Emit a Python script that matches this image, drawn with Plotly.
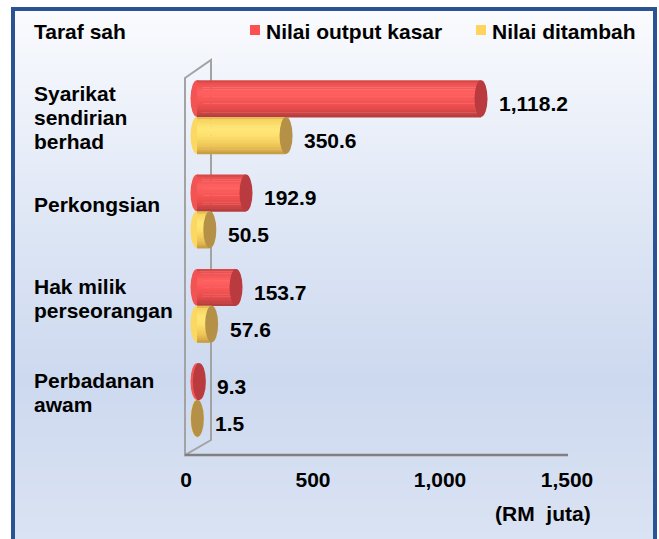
import base64, struct, zlib
import plotly.graph_objects as go

# ---------------- data ----------------
categories = ["Syarikat<br>sendirian<br>berhad", "Perkongsian",
              "Hak milik<br>perseorangan", "Perbadanan<br>awam"]
output_kasar = [1118.2, 192.9, 153.7, 9.3]
nilai_ditambah = [350.6, 50.5, 57.6, 1.5]
output_labels = ["1,118.2", "192.9", "153.7", "9.3"]
ditambah_labels = ["350.6", "50.5", "57.6", "1.5"]
series_names = ["Nilai output kasar", "Nilai ditambah"]
x_tickvals = [0, 500, 1000, 1500]
x_ticktext = ["0", "500", "1,000", "1,500"]

# ---------------- geometry helpers ----------------
FW, FH = 659, 539
L, R, T, B = 186, 567, 60, 455   # plot area in page pixels
PW, PH = R - L, B - T

def fx(px):
    return (px - L) / PW

def fy(py):
    return (B - py) / PH

FONT = "Liberation Sans, Arial, sans-serif"
FS = 21
THICK = 0.39
UNITS_PER_PX = 1500 / PW
CAP_HALF = 6.5 * UNITS_PER_PX
LINE_H = 24

# ---------------- gradient background png ----------------
stops = [(9, (250, 251, 254)), (100, (238, 242, 250)), (250, (219, 228, 244)),
         (380, (205, 217, 239)), (539, (218, 227, 243))]

def lerp(c0, c1, t):
    return tuple(int(round(a + (b - a) * t)) for a, b in zip(c0, c1))

def col_at(py):
    for (p0, c0), (p1, c1) in zip(stops[:-1], stops[1:]):
        if p0 <= py <= p1:
            return lerp(c0, c1, (py - p0) / (p1 - p0))
    return stops[-1][1]

def make_png(rows):
    raw = b"".join(b"\x00" + bytes(c) for c in rows)
    def chunk(tag, data):
        return struct.pack(">I", len(data)) + tag + data + struct.pack(">I", zlib.crc32(tag + data) & 0xffffffff)
    png = b"\x89PNG\r\n\x1a\n" + chunk(b"IHDR", struct.pack(">IIBBBBB", 1, len(rows), 8, 2, 0, 0, 0))
    png += chunk(b"IDAT", zlib.compress(raw)) + chunk(b"IEND", b"")
    return "data:image/png;base64," + base64.b64encode(png).decode()

bg_src = make_png([col_at(py) for py in range(9, 540)])

# ---------------- cylinder styling ----------------
def hexc(h):
    return tuple(int(h[i:i + 2], 16) for i in (1, 3, 5))

red_profile = [(0.0, "#cc4444"), (0.08, "#ec4f4f"), (0.32, "#ff6161"), (0.52, "#fa5757"),
               (0.76, "#e84b4b"), (0.9, "#cc4343"), (1.0, "#ae3b3b")]
yel_profile = [(0.0, "#d6ae4e"), (0.08, "#f8d460"), (0.32, "#ffe777"), (0.52, "#fddf6b"),
               (0.76, "#f0c858"), (0.9, "#dcb04c"), (1.0, "#bf9740")]

def bands_from(profile, n=16):
    out = []
    for k in range(n):
        t = (k + 0.5) / n
        for (p0, c0), (p1, c1) in zip(profile[:-1], profile[1:]):
            if p0 <= t <= p1:
                c = lerp(hexc(c0), hexc(c1), (t - p0) / (p1 - p0))
                break
        out.append((k / n, (k + 1) / n, "rgb({},{},{})".format(*c)))
    return out

red_main, yel_main = "#f25454", "#fbd862"
red_cap, yel_cap = "#b93a3f", "#b59148"

fig = go.Figure()
shapes = []
annotations = []

idx = list(range(len(categories)))
series = [(output_kasar, output_labels, bands_from(red_profile), red_main, red_cap, -THICK),
          (nilai_ditambah, ditambah_labels, bands_from(yel_profile), yel_main, yel_cap, 0.0)]

for vals, labs, bands, main, cap, off in series:
    for b0, b1, c in bands:
        fig.add_trace(go.Bar(orientation="h", x=vals, y=idx, base=0,
                             offset=off + b0 * THICK, width=(b1 - b0) * THICK + 0.004,
                             marker=dict(color=c, line=dict(width=0)),
                             xaxis="x2", yaxis="y", showlegend=False, hoverinfo="skip"))
    for i, v in zip(idx, vals):
        y0, y1 = i + off, i + off + THICK
        shapes.append(dict(type="circle", xref="x2", yref="y", x0=-CAP_HALF, x1=CAP_HALF,
                           y0=y0, y1=y1, fillcolor=main, line=dict(width=0), layer="below"))
        shapes.append(dict(type="circle", xref="x2", yref="y", x0=v - CAP_HALF, x1=v + CAP_HALF,
                           y0=y0, y1=y1, fillcolor=cap, line=dict(width=0), layer="above"))
    for i, v, lab in zip(idx, vals, labs):
        annotations.append(dict(x=v, y=i + off + THICK / 2, xref="x2", yref="y", text=lab,
                                showarrow=False, xanchor="left", yanchor="middle",
                                xshift=16, yshift=-5,
                                font=dict(family=FONT, size=FS, color="#000000", weight="bold")))

# invisible trace so the visible tick axis is drawn
fig.add_trace(go.Scatter(x=[x_tickvals[0], x_tickvals[-1]], y=[None, None], mode="markers",
                         xaxis="x", yaxis="y", showlegend=False, hoverinfo="skip"))

# category labels, one annotation per text line for tighter line spacing
for i, c in zip(idx, categories):
    lines = c.split("<br>")
    n = len(lines)
    base_shift = 0 if n >= 3 else 7
    for k, line in enumerate(lines):
        annotations.append(dict(x=fx(32), y=i, xref="paper", yref="y", text=line,
                                showarrow=False, xanchor="left", yanchor="middle",
                                yshift=base_shift + ((n - 1) / 2 - k) * LINE_H,
                                font=dict(family=FONT, size=FS, color="#000000", weight="bold")))

annotations.append(dict(x=fx(32), y=fy(31), xref="paper", yref="paper", text="Taraf sah",
                        showarrow=False, xanchor="left", yanchor="middle",
                        font=dict(family=FONT, size=FS, color="#000000", weight="bold")))
for name, sx, col in [(series_names[0], 250, "#ff5050"), (series_names[1], 476, "#ffd35c")]:
    shapes.append(dict(type="rect", xref="paper", yref="paper", x0=fx(sx), x1=fx(sx + 10),
                       y0=fy(25), y1=fy(35), fillcolor=col, line=dict(width=0)))
    annotations.append(dict(x=fx(sx + 14), y=fy(31), xref="paper", yref="paper", text=name,
                            showarrow=False, xanchor="left", yanchor="middle",
                            font=dict(family=FONT, size=FS, color="#000000", weight="bold")))

annotations.append(dict(x=fx(593), y=fy(513), xref="paper", yref="paper", text="(RM  juta)",
                        showarrow=False, xanchor="right", yanchor="middle",
                        font=dict(family=FONT, size=FS, color="#000000", weight="bold")))

wall = "M {} {} L {} {} L {} {} L {} {} Z".format(fx(185), fy(78), fx(211), fy(60),
                                                  fx(211), fy(440), fx(185), fy(455))
shapes.append(dict(type="path", xref="paper", yref="paper", path=wall,
                   line=dict(color="#a3a3a3", width=2), layer="below"))
shapes.append(dict(type="line", xref="paper", yref="paper", x0=fx(185), x1=fx(568),
                   y0=fy(455), y1=fy(455), line=dict(color="#808080", width=2.5), layer="below"))

shapes.append(dict(type="rect", xref="paper", yref="paper", x0=fx(13), x1=fx(655),
                   y0=fy(560), y1=fy(9), line=dict(color="#2a5394", width=4),
                   fillcolor="rgba(0,0,0,0)", layer="above"))

fig.update_layout(
    width=FW, height=FH,
    margin=dict(l=L, r=FW - R, t=T, b=FH - B, pad=0),
    paper_bgcolor="#ffffff", plot_bgcolor="rgba(0,0,0,0)",
    barmode="overlay", showlegend=False, hovermode=False,
    images=[dict(source=bg_src, xref="paper", yref="paper", x=fx(13), y=fy(9),
                 sizex=fx(655) - fx(13), sizey=fy(9) - fy(539), sizing="stretch",
                 xanchor="left", yanchor="top", layer="below")],
    xaxis=dict(range=[0, 1500], tickvals=x_tickvals, ticktext=x_ticktext, showgrid=False,
               zeroline=False, showline=False, ticks="", ticklabelstandoff=10, fixedrange=True,
               tickfont=dict(family=FONT, size=FS, color="#000000", weight="bold")),
    xaxis2=dict(range=[-11 * UNITS_PER_PX, 1500 - 11 * UNITS_PER_PX], overlaying="x",
                visible=False, fixedrange=True),
    yaxis=dict(range=[3 + (B - 400) / 94.3, -(117 - T) / 94.3], visible=False, fixedrange=True),
    shapes=shapes, annotations=annotations,
)

fig.write_html("out.html", config={"displayModeBar": False},
               post_script="document.body.style.margin='0';document.body.style.overflow='hidden';")
